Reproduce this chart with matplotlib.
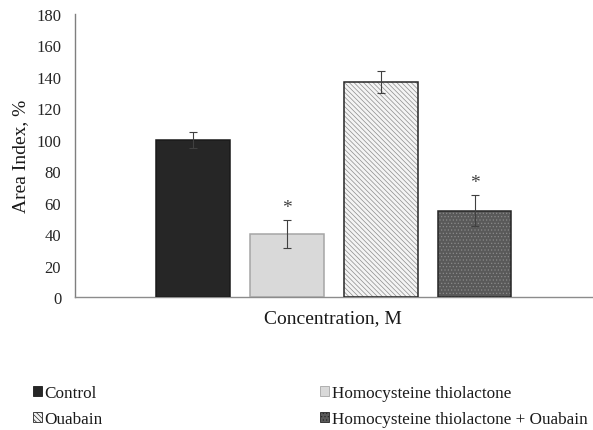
import matplotlib
matplotlib.use("Agg")
import matplotlib.pyplot as plt
import numpy as np
from matplotlib.patches import Patch

plt.rcParams.update({"font.family": ["Liberation Serif", "DejaVu Serif"], "font.size": 12,
                     "hatch.linewidth": 0.5})

series = ["Control", "Homocysteine thiolactone", "Ouabain", "Homocysteine thiolactone + Ouabain"]
values = [100, 40, 137, 55]
errors = [5, 9, 7, 10]
signif = [False, True, False, True]
x_label = "Concentration, M"
y_label = "Area Index, %"

faces = ["#262626", "#d9d9d9", "#f4f4f4", "#595959"]
hatch_cols = [None, None, "#8c8c8c", "#8a8a8a"]
hatches = [None, None, "\\\\\\\\\\\\\\", "....."]
edges = ["#1a1a1a", "#a6a6a6", "#262626", "#262626"]

fig = plt.figure(figsize=(5.93, 4.31), dpi=100)
ax = fig.add_axes([0.1265, 0.3086, 0.8715, 0.6565])
x = np.arange(len(series))
w = 0.78
for i in range(len(series)):
    # fill + hatch first, outline on top
    ax.bar(x[i], values[i], w, color=faces[i], hatch=hatches[i],
           edgecolor=hatch_cols[i] if hatch_cols[i] else faces[i], lw=0, zorder=2)
    ax.bar(x[i], values[i], w, fill=False, edgecolor=edges[i], lw=1.1, zorder=3)
    ax.errorbar(x[i], values[i], yerr=errors[i], fmt="none", ecolor="#404040",
                elinewidth=0.8, capsize=3, capthick=0.8, zorder=4)
    if signif[i]:
        ax.text(x[i], values[i] + errors[i] + 8, "*", ha="center", va="center",
                fontsize=14, color="#404040")

ax.set_xlim(-1.255, 4.245)
ax.set_ylim(0, 180)
ax.set_yticks(np.arange(0, 181, 20))
ax.set_xticks([])
ax.tick_params(axis="y", length=0, pad=10, labelsize=12, colors="#262626")
for s in ["top", "right"]:
    ax.spines[s].set_visible(False)
ax.spines["left"].set_color("#7f7f7f")
ax.spines["bottom"].set_color("#8c8c8c")
ax.spines["left"].set_linewidth(1.0)
ax.spines["bottom"].set_linewidth(1.0)
ax.set_xlabel(x_label, fontsize=14, labelpad=9, color="#1a1a1a")
ax.set_ylabel(y_label, fontsize=14, labelpad=5, color="#1a1a1a")

# legend is filled row by row in the reference: Control, HT / Ouabain, HT+Ouabain
order = [0, 2, 1, 3]
handles = [Patch(facecolor=faces[i], hatch=hatches[i], edgecolor=edges[i], lw=0.6)
           for i in order]
leg = fig.legend(handles, [series[i] for i in order], ncol=2, loc="upper left",
                 bbox_to_anchor=(0.0556, 0.105), frameon=False, borderpad=0,
                 borderaxespad=0, handlelength=0.5, handleheight=0.5, handletextpad=0.17,
                 columnspacing=12.75, labelspacing=0.6, fontsize=12.3)
for t in leg.get_texts():
    t.set_color("#1a1a1a")

fig.savefig("out.png", dpi=100)
